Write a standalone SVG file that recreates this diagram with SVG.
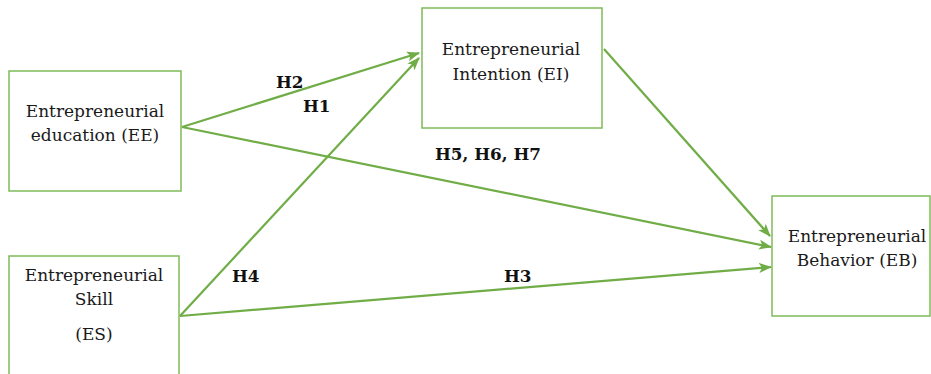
<svg xmlns="http://www.w3.org/2000/svg" width="931" height="374" viewBox="0 0 931 374">
<defs>
<style>
.box{fill:#fff;stroke:#7fba5a;stroke-width:1.5}
.t{font-family:"DejaVu Serif","Liberation Serif",serif;font-size:17px;fill:#1a1a1a;text-anchor:middle}
.h{font-family:"DejaVu Serif","Liberation Serif",serif;font-size:16.8px;font-weight:bold;fill:#111}
.c{stroke:#70ad47;stroke-width:2.2;fill:none;marker-end:url(#ah)}
</style>
<marker id="ah" markerUnits="userSpaceOnUse" markerWidth="14" markerHeight="12" refX="12" refY="5" orient="auto" viewBox="0 0 14 10">
<path d="M0,0 L13,5 L0,10 L3,5 Z" fill="#70ad47"/>
</marker>
</defs>
<rect width="931" height="374" fill="#fff"/>
<g id="connectors">
<line class="c" x1="182" y1="127" x2="419" y2="53"/>
<line class="c" x1="180" y1="316" x2="419" y2="58"/>
<line class="c" x1="182" y1="127" x2="771" y2="247"/>
<line class="c" x1="180" y1="316" x2="771" y2="267"/>
<line class="c" x1="604" y1="49" x2="770" y2="236"/>
</g>
<g id="EE">
<rect class="box" x="9" y="71" width="172" height="120"/>
<text class="t" x="95" y="117">Entrepreneurial</text>
<text class="t" x="95" y="141">education (EE)</text>
</g>
<g id="ES">
<rect class="box" x="9" y="256" width="170" height="130"/>
<text class="t" x="94" y="281">Entrepreneurial</text>
<text class="t" x="94" y="305">Skill</text>
<text class="t" x="94" y="340">(ES)</text>
</g>
<g id="EI">
<rect class="box" x="422" y="8" width="180" height="120"/>
<text class="t" x="511" y="55">Entrepreneurial</text>
<text class="t" x="511" y="80">Intention (EI)</text>
</g>
<g id="EB">
<rect class="box" x="772" y="196" width="158" height="120"/>
<text class="t" x="857" y="242">Entrepreneurial</text>
<text class="t" x="857" y="266">Behavior (EB)</text>
</g>
<g id="labels">
<text class="h" x="276" y="88">H2</text>
<text class="h" x="303" y="112">H1</text>
<text class="h" x="435" y="160">H5, H6, H7</text>
<text class="h" x="232" y="282">H4</text>
<text class="h" x="504" y="282">H3</text>
</g>
</svg>
